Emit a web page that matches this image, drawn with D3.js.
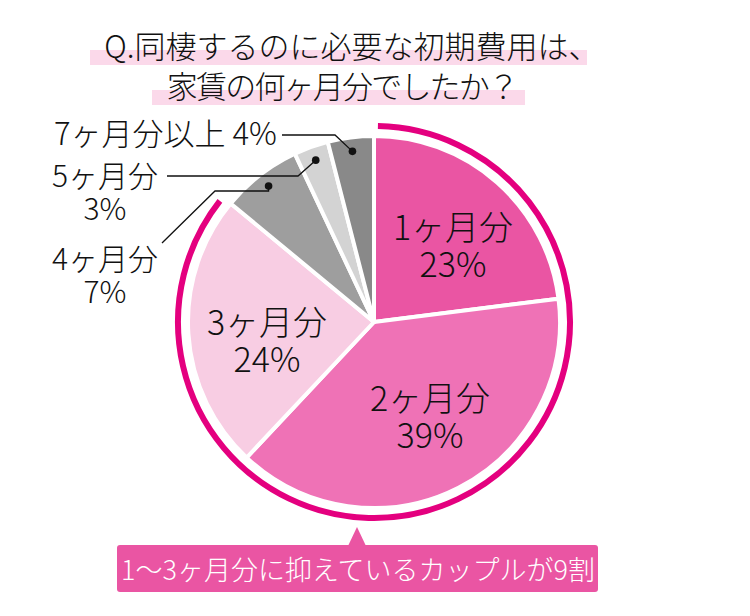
<!DOCTYPE html>
<html>
<head>
<meta charset="utf-8">
<script src="https://cdn.jsdelivr.net/npm/d3@7"></script>
<style>
  body { margin: 0; background: #fff; }
  text { font-family: "Noto Sans CJK JP", "Noto Sans", sans-serif; font-weight: 300; }
</style>
</head>
<body>
<div id="chart"></div>
<script>
var svgWidth = 750;
var svgHeight = 616;

// data
var categories = ["1ヶ月分", "2ヶ月分", "3ヶ月分", "4ヶ月分", "5ヶ月分", "7ヶ月分以上"];
var shares = [23, 39, 24, 7, 3, 4];
var colors = ["#ea55a3", "#ef72b6", "#f8cde3", "#9e9e9e", "#d3d3d3", "#898989"];
var titleLines = ["Q.同棲するのに必要な初期費用は、", "家賃の何ヶ月分でしたか？"];
var calloutText = "1〜3ヶ月分に抑えているカップルが9割";

var cx = 374, cy = 322, radius = 186;

var svg = d3.select("#chart")
  .append("svg")
  .attr("width", svgWidth)
  .attr("height", svgHeight);

// title with pink highlight bands
var bands = [{x: 90, y: 50, w: 497, h: 15}, {x: 152, y: 90, w: 373, h: 15}];
svg.selectAll("rect.band")
  .data(bands)
  .enter()
  .append("rect")
  .attr("class", "band")
  .attr("x", d => d.x)
  .attr("y", d => d.y)
  .attr("width", d => d.w)
  .attr("height", d => d.h)
  .attr("fill", "#fbd9ea");

svg.selectAll("text.title")
  .data(titleLines)
  .enter()
  .append("text")
  .attr("class", "title")
  .attr("x", (d, i) => i === 0 ? 352 : 342)
  .attr("y", (d, i) => 58 + i * 40)
  .attr("text-anchor", "middle")
  .attr("font-size", 31)
  .attr("letter-spacing", (d, i) => i === 0 ? 0 : -1.8)
  .attr("fill", "#111")
  .text(d => d);

var pieData = d3.pie()
  .sort(null)
  .value(d => d)(shares);

var arc = d3.arc()
  .innerRadius(0)
  .outerRadius(radius);

var chartGroup = svg.append("g")
  .attr("transform", `translate(${cx}, ${cy})`);

chartGroup.selectAll("path.slice")
  .data(pieData)
  .enter()
  .append("path")
  .attr("class", "slice")
  .attr("d", arc)
  .attr("fill", (d, i) => colors[i])
  .attr("stroke", "#fff")
  .attr("stroke-width", 4)
  .attr("stroke-linejoin", "round");

// outer ring around the 1-3 month slices
var ringArc = d3.arc()
  .innerRadius(196)
  .outerRadius(196);
chartGroup.append("path")
  .attr("d", ringArc({startAngle: pieData[0].startAngle + 0.02, endAngle: pieData[2].endAngle - 0.025}))
  .attr("fill", "none")
  .attr("stroke", "#e4007f")
  .attr("stroke-width", 6)
  .attr("stroke-linecap", "round");

// inside labels
var insideLabels = [
  {i: 0, x: 79, y: -82},
  {i: 1, x: 56, y: 89},
  {i: 2, x: -107, y: 13}
];
insideLabels.forEach(function(l) {
  var t = chartGroup.append("text")
    .attr("text-anchor", "middle")
    .attr("font-size", 34)
    .attr("fill", "#111");
  t.append("tspan").attr("x", l.x).attr("y", l.y).text(categories[l.i]);
  t.append("tspan").attr("x", l.x).attr("y", l.y + 37).text(shares[l.i] + "%");
});

// outside labels with leader lines
var dotArc = d3.arc().innerRadius(172).outerRadius(172);
var outside = [
  {i: 3, lines: [categories[3], shares[3] + "%"], tx: 105, ty: 270, path: (p) => [[162, 243], [215, 191], [p[0], 191]]},
  {i: 4, lines: [categories[4], shares[4] + "%"], tx: 105, ty: 187, path: (p) => [[167, 176], [298, 176]]},
  {i: 5, lines: [categories[5] + " " + shares[5] + "%"], tx: 54, ty: 145, path: (p) => [[282, 135], [335, 135]]}
];
outside.forEach(function(o) {
  var c = dotArc.centroid(pieData[o.i]);
  var p = [cx + c[0], cy + c[1]];
  svg.append("path")
    .attr("d", d3.line()(o.path(p).concat([p])))
    .attr("fill", "none")
    .attr("stroke", "#111")
    .attr("stroke-width", 1.3);
  svg.append("circle")
    .attr("cx", p[0])
    .attr("cy", p[1])
    .attr("r", 3.8)
    .attr("fill", "#111");
  var t = svg.append("text")
    .attr("text-anchor", o.lines.length > 1 ? "middle" : "start")
    .attr("font-size", o.lines.length > 1 ? 30 : 31)
    .attr("fill", "#111");
  o.lines.forEach(function(s, k) {
    t.append("tspan").attr("x", o.tx).attr("y", o.ty + k * 33).text(s);
  });
});

// callout box
svg.append("path")
  .attr("d", d3.line()([[348, 546], [357, 527], [366, 546]]))
  .attr("fill", "#ea55a3");
svg.append("rect")
  .attr("x", 117)
  .attr("y", 545)
  .attr("width", 481)
  .attr("height", 47)
  .attr("rx", 3)
  .attr("fill", "#ea55a3");
svg.append("text")
  .attr("x", 358)
  .attr("y", 580)
  .attr("text-anchor", "middle")
  .attr("font-size", 27)
  .attr("fill", "#fff")
  .text(calloutText);
</script>
</body>
</html>
